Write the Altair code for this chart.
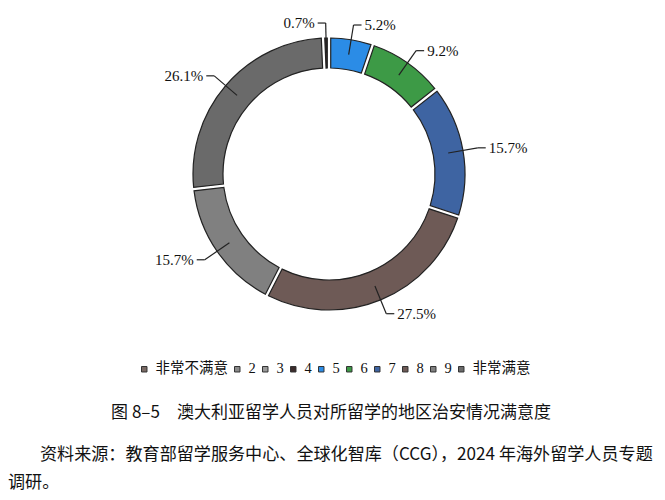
import math
import altair as alt
import pandas as pd

# ---- data ----
categories = ["非常不满意", "2", "3", "4", "5", "6", "7", "8", "9", "非常满意"]
values = [0, 0, 0, 0.7, 5.2, 9.2, 15.7, 27.5, 15.7, 26.1]
labels = ["", "", "", "0.7%", "5.2%", "9.2%", "15.7%", "27.5%", "15.7%", "26.1%"]
colors = ["#7a6a64", "#8a8a8a", "#9a9a9a", "#3b2b2b", "#2b8ce6",
          "#3d9a46", "#3e64a2", "#6e5a56", "#808080", "#6a6a6a"]

caption = "图 8–5　澳大利亚留学人员对所留学的地区治安情况满意度"
source1 = "资料来源：教育部留学服务中心、全球化智库（CCG），2024 年海外留学人员专题"
source2 = "调研。"

df = pd.DataFrame({"cat": categories, "value": values, "label": labels,
                   "ord": list(range(len(categories)))})

# rotate so that the first non-empty category ends at 12 o'clock
total = sum(values)
first_nz = next(i for i, v in enumerate(values) if v > 0)
start = -2 * math.pi * sum(values[: first_nz + 1]) / total

CX, CY = 321, 166
R_OUT, R_IN = 136, 106
R1, R2 = 121, 151
CJK = "Noto Sans CJK SC"
SERIF = "Liberation Serif, Noto Sans CJK SC"

base = alt.Chart(df).transform_filter("datum.value > 0")

arc = base.mark_arc(outerRadius=R_OUT, innerRadius=R_IN, padAngle=0.02,
                    stroke="#222222", strokeWidth=1.2).encode(
    theta=alt.Theta("value:Q", stack=True,
                    scale=alt.Scale(range=[start, start + 2 * math.pi])),
    order=alt.Order("ord:Q"),
    color=alt.Color("cat:N", sort=categories,
                    scale=alt.Scale(domain=categories, range=colors),
                    legend=alt.Legend(orient="none", legendX=129, legendY=354,
                                      direction="horizontal", title=None,
                                      gridAlign="none",
                                      symbolType="square", symbolSize=30,
                                      symbolStrokeColor="#333333", symbolStrokeWidth=1,
                                      labelFont=SERIF, labelFontSize=14.5,
                                      labelColor="#111111", labelOffset=4,
                                      columnPadding=2)),
    x=alt.value(CX),
    y=alt.value(CY),
)

geo = (
    base.transform_joinaggregate(tot="sum(value)")
    .transform_window(cum="sum(value)", sort=[alt.SortField("ord")], frame=[None, 0])
    .transform_calculate(mid=f"{start} + 2*PI*(datum.cum - datum.value/2)/datum.tot")
    .transform_calculate(
        x1=f"{CX} + {R1}*sin(datum.mid)", y1=f"{CY} - {R1}*cos(datum.mid)",
        x2=f"{CX} + {R2}*sin(datum.mid)", y2=f"{CY} - {R2}*cos(datum.mid)",
        side="sin(datum.mid) >= 0 ? 1 : -1",
    )
    .transform_calculate(x3="datum.x2 + 8*datum.side", tx="datum.x2 + 11*datum.side")
)

lead1 = geo.mark_rule(color="#222222", strokeWidth=1.2).encode(
    x=alt.X("x1:Q", scale=None, axis=None), y=alt.Y("y1:Q", scale=None, axis=None),
    x2="x2:Q", y2="y2:Q")
lead2 = geo.mark_rule(color="#222222", strokeWidth=1.2).encode(
    x=alt.X("x2:Q", scale=None, axis=None), y=alt.Y("y2:Q", scale=None, axis=None),
    x2="x3:Q", y2="y2:Q")

txt_r = geo.transform_filter("datum.side > 0").mark_text(
    align="left", baseline="middle", font=SERIF, fontSize=15, color="#111111").encode(
    x=alt.X("tx:Q", scale=None, axis=None), y=alt.Y("y2:Q", scale=None, axis=None),
    text="label:N")
txt_l = geo.transform_filter("datum.side < 0").mark_text(
    align="right", baseline="middle", font=SERIF, fontSize=15, color="#111111").encode(
    x=alt.X("tx:Q", scale=None, axis=None), y=alt.Y("y2:Q", scale=None, axis=None),
    text="label:N")

cap = alt.Chart(pd.DataFrame({"t": [caption]})).mark_text(
    align="center", baseline="middle", font=CJK, fontSize=17, color="#111111").encode(
    x=alt.value(323), y=alt.value(405), text="t:N")
src1 = alt.Chart(pd.DataFrame({"t": [source1]})).mark_text(
    align="left", baseline="middle", font=CJK, fontSize=17.1, color="#111111").encode(
    x=alt.value(32), y=alt.value(447), text="t:N")
src2 = alt.Chart(pd.DataFrame({"t": [source2]})).mark_text(
    align="left", baseline="middle", font=CJK, fontSize=17.1, color="#111111").encode(
    x=alt.value(0), y=alt.value(475), text="t:N")

chart = alt.layer(arc, lead1, lead2, txt_r, txt_l, cap, src1, src2).properties(
    width=649, height=484, autosize="none", padding=0, background="white"
).configure_view(stroke=None)

chart.save("out.html", embed_options={"renderer": "svg", "actions": False})
